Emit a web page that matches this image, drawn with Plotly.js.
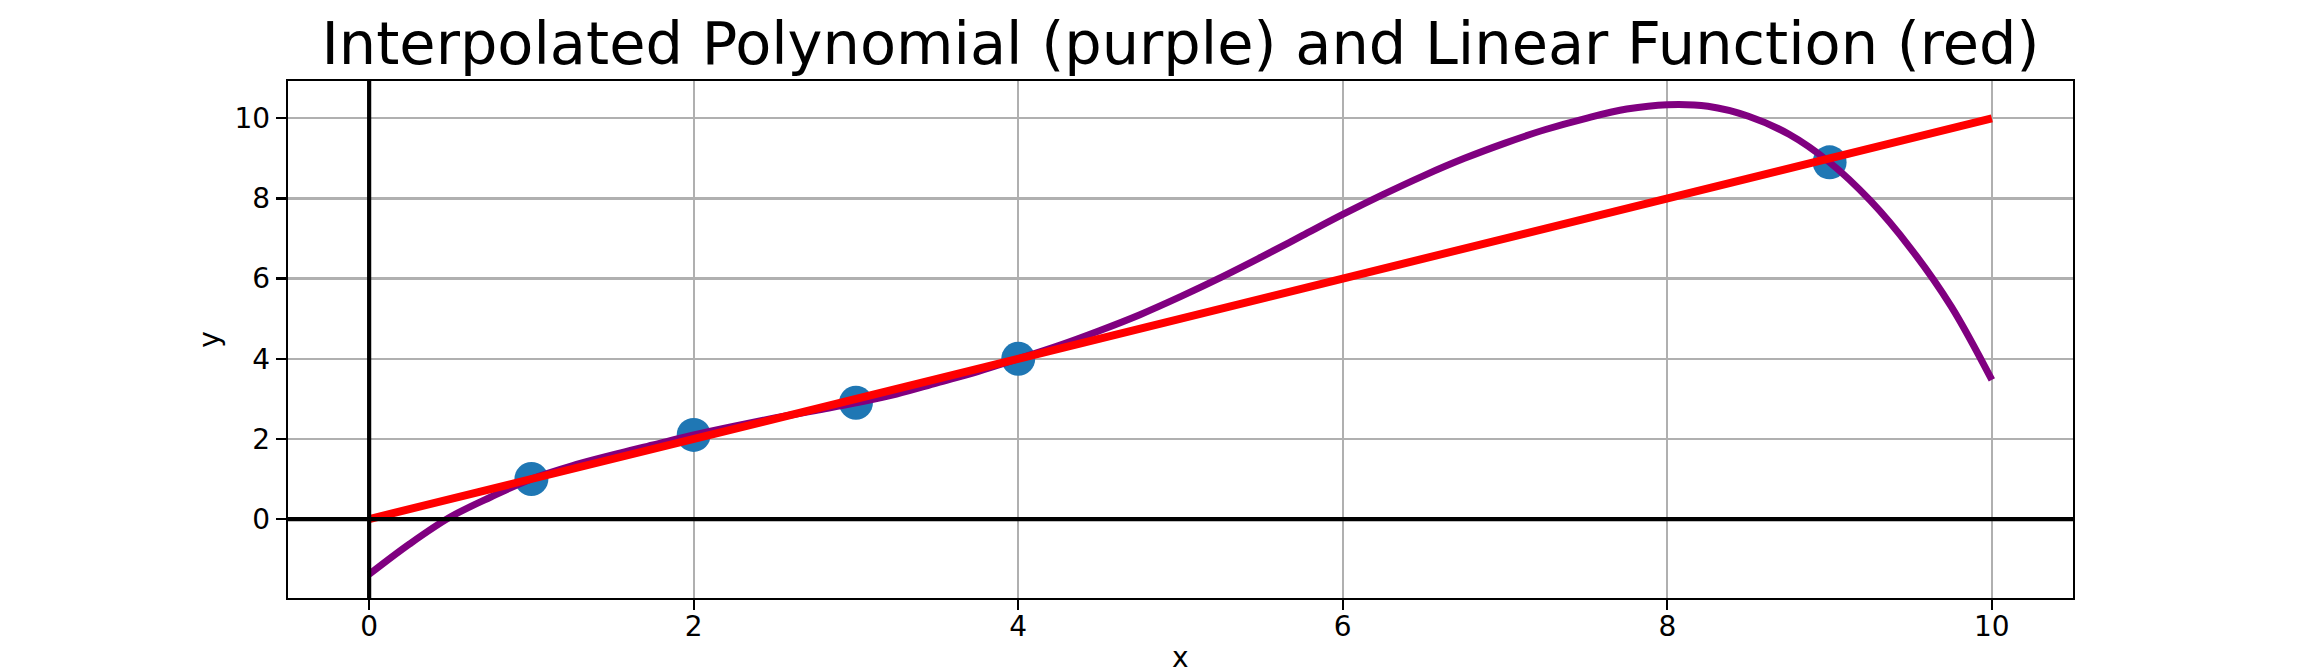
<!DOCTYPE html>
<html>
<head>
<meta charset="utf-8">
<script src="https://cdn.plot.ly/plotly-3.0.1.min.js"></script>
<style>
  html, body { margin: 0; padding: 0; background: #ffffff; }
  #chart { width: 2304px; height: 672px; }
</style>
</head>
<body>
<div id="chart"></div>
<script>
// Data points (blue)
const pointsX = [1, 2, 3, 4, 9];
const pointsY = [1, 2.1, 2.9, 4, 8.9];

// Interpolated polynomial (purple)
const polyX = [0, 0.25, 0.5, 0.75, 1, 1.25, 1.5, 1.75, 2, 2.25, 2.5, 2.75, 3, 3.25, 3.5, 3.75, 4,
               4.25, 4.5, 4.75, 5, 5.25, 5.5, 5.75, 6, 6.25, 6.5, 6.75, 7, 7.25, 7.5, 7.75, 8,
               8.25, 8.5, 8.75, 9, 9.25, 9.5, 9.75, 10];
const polyY = [-1.38, -0.62, 0.05, 0.55, 1.0, 1.33, 1.6, 1.85, 2.1, 2.32, 2.52, 2.71, 2.9, 3.12, 3.4, 3.68, 4.0,
               4.33, 4.7, 5.1, 5.55, 6.03, 6.54, 7.07, 7.6, 8.1, 8.57, 9.0, 9.38, 9.72, 10.0, 10.23, 10.34,
               10.3, 10.05, 9.6, 8.9, 7.95, 6.75, 5.3, 3.47];

// Linear function (red)
const lineX = [0, 10];
const lineY = [0, 10];

const xTicks = [0, 2, 4, 6, 8, 10];
const yTicks = [0, 2, 4, 6, 8, 10];

const titleText = 'Interpolated Polynomial (purple) and Linear Function (red)';
const xTitle = 'x';
const yTitle = 'y';

const traces = [
  {
    x: pointsX, y: pointsY, type: 'scatter', mode: 'markers',
    marker: { color: '#1f77b4', size: 34, line: { width: 0 } },
    showlegend: false, hoverinfo: 'skip'
  },
  {
    x: polyX, y: polyY, type: 'scatter', mode: 'lines',
    line: { color: '#800080', width: 7, shape: 'spline', smoothing: 1 },
    showlegend: false, hoverinfo: 'skip'
  },
  {
    x: lineX, y: lineY, type: 'scatter', mode: 'lines',
    line: { color: '#ff0000', width: 8 },
    showlegend: false, hoverinfo: 'skip'
  }
];

const font = { family: 'DejaVu Sans, sans-serif', color: '#000000' };

const layout = {
  width: 2304, height: 672,
  paper_bgcolor: '#ffffff', plot_bgcolor: '#ffffff',
  margin: { l: 288, r: 231, t: 81, b: 74, pad: 0 },
  font: Object.assign({ size: 28 }, font),
  title: {
    text: titleText,
    font: Object.assign({ size: 59 }, font),
    x: 0.5, xref: 'paper', xanchor: 'center',
    y: 1, yref: 'paper', yanchor: 'bottom',
    pad: { b: 17 }
  },
  xaxis: {
    range: [-0.5, 10.5],
    tickvals: xTicks, ticktext: xTicks.map(String),
    ticks: 'outside', ticklen: 10, tickwidth: 2.2, tickcolor: '#000000',
    ticklabelstandoff: -8,
    showline: true, mirror: true, linecolor: '#000000', linewidth: 2.2,
    showgrid: true, gridcolor: '#b0b0b0', gridwidth: 2.2,
    zeroline: false,
    tickfont: Object.assign({ size: 28 }, font)
  },
  yaxis: {
    range: [-1.97, 10.93],
    tickvals: yTicks, ticktext: yTicks.map(String),
    ticks: 'outside', ticklen: 10, tickwidth: 2.2, tickcolor: '#000000',
    showline: true, mirror: true, linecolor: '#000000', linewidth: 2.2,
    showgrid: true, gridcolor: '#b0b0b0', gridwidth: 2.2,
    zeroline: false,
    tickfont: Object.assign({ size: 28 }, font),
    title: { text: yTitle, font: Object.assign({ size: 28 }, font), standoff: 7 }
  },
  annotations: [
    { text: xTitle, xref: 'paper', yref: 'paper', x: 0.5, y: -0.116,
      xanchor: 'center', yanchor: 'middle', showarrow: false,
      font: Object.assign({ size: 28 }, font) }
  ],
  shapes: [
    { type: 'line', xref: 'paper', yref: 'y', x0: 0, x1: 1, y0: 0, y1: 0,
      line: { color: '#000000', width: 4.2 }, layer: 'above' },
    { type: 'line', xref: 'x', yref: 'paper', x0: 0, x1: 0, y0: 0, y1: 1,
      line: { color: '#000000', width: 4.2 }, layer: 'above' }
  ]
};

Plotly.newPlot('chart', traces, layout, { staticPlot: true, displayModeBar: false });
</script>
</body>
</html>
